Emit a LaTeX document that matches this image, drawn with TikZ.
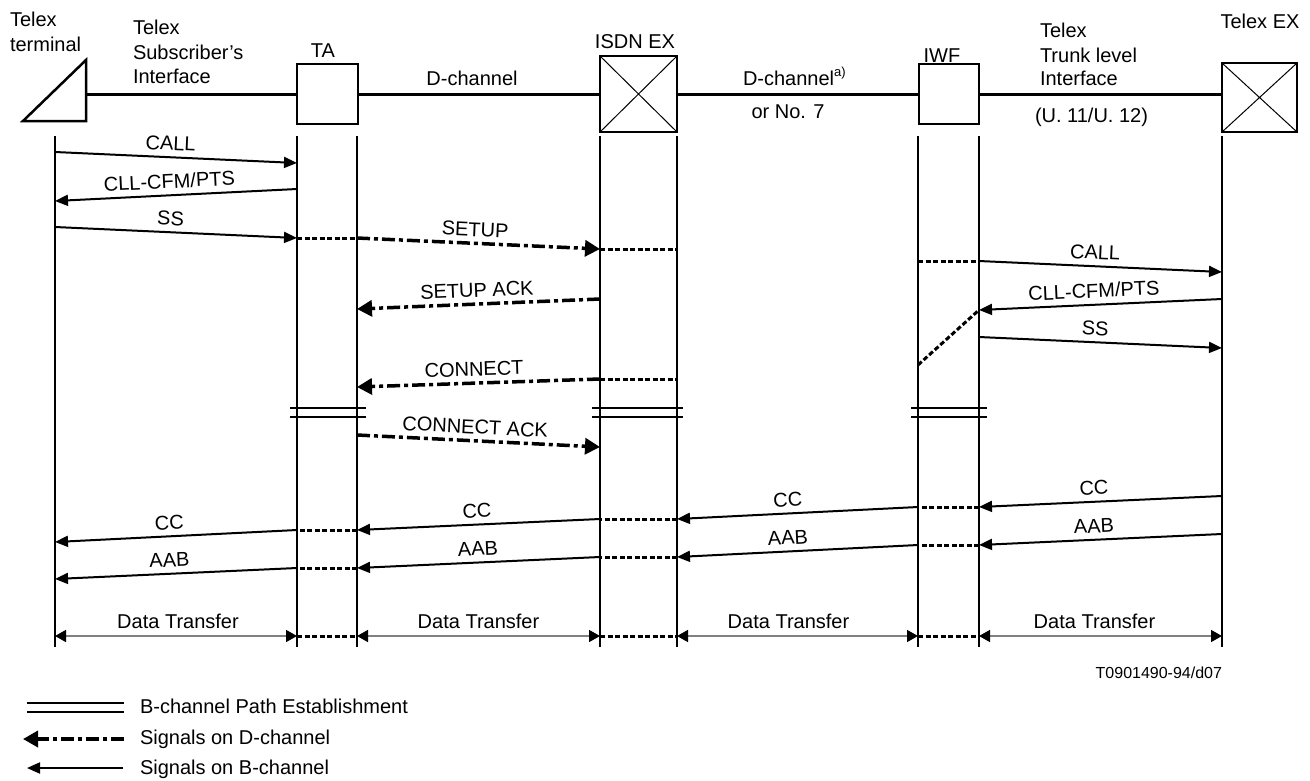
\documentclass[tikz,border=0pt]{standalone}
\usepackage{fontspec}
\setmainfont{Liberation Sans}
\usetikzlibrary{arrows.meta}
\begin{document}
\begin{tikzpicture}[x=1pt,y=-1pt,
  every node/.style={font=\fontsize{20}{24}\selectfont, inner sep=0pt, outer sep=0pt},
  box/.style={draw, line width=2.5pt, anchor=north west, inner sep=0pt},
  hline/.style={line width=3pt},
  life/.style={line width=2.5pt},
  bsig/.style={line width=2pt, -{Triangle[length=13pt,width=11pt]}},
  dsig/.style={line width=3.5pt, dash pattern=on 13pt off 4pt on 4pt off 4pt, -{Triangle[length=15pt,width=16pt]}},
  dotseg/.style={line width=3pt, dash pattern=on 5pt off 2.5pt},
  dtrans/.style={draw=black!50, line width=1.5pt, {Triangle[length=11pt,width=12pt,color=black]}-{Triangle[length=11pt,width=12pt,color=black]}},
  dbl/.style={line width=2.5pt},
  lbl/.style={midway, sloped, above=7pt, text depth=0pt, xshift=-6pt},
  dlbl/.style={midway, above=7.5pt, text depth=0pt},
  hdr/.style={anchor=base west},
  hdc/.style={anchor=base},
]
\useasboundingbox (0,0) rectangle (1310,780);

% ---------- header ----------
\coordinate (trA) at (23,121);
\coordinate (trB) at (86,121);
\coordinate (trC) at (86,60);
\coordinate (trR) at (86,94);
\draw[line width=2.5pt, line join=miter] (trA) -- (trB) -- (trC) -- cycle;

\node[box, minimum width=61pt, minimum height=60pt] (ta) at (297,64) {};
\node[box, minimum width=77pt, minimum height=76pt] (isdn) at (600,56) {};
\node[box, minimum width=60pt, minimum height=60pt] (iwf) at (919,64) {};
\node[box, minimum width=75pt, minimum height=69pt] (tex) at (1222,63) {};
\draw[line width=1pt] (isdn.north west) -- (isdn.south east) (isdn.north east) -- (isdn.south west);
\draw[line width=1pt] (tex.north west) -- (tex.south east) (tex.north east) -- (tex.south west);

\draw[hline] (trR) -- (ta.west);
\draw[hline] (ta.east) -- (isdn.west);
\draw[hline] (isdn.east) -- (iwf.west);
\draw[hline] (iwf.east) -- (iwf.east -| tex.west);

\node[hdr] (h1) at (10,26) {Telex};
\node[hdr] (h2) at (10,51) {terminal};
\node[hdr] (h3) at (133,34) {Telex};
\node[hdr] (h4) at (133,59) {Subscriber’s};
\node[hdr] (h5) at (133,83) {Interface};
\node[hdc] (h6) at (323,57) {TA};
\node[hdc] (h7) at (472,85) {D-channel};
\node[hdc] (h8) at (635,48) {ISDN EX};
\node[hdr] (h9) at (743,85) {D-channel\raisebox{9pt}{\fontsize{13}{13}\selectfont a)}};
\node[hdc] (h10) at (788,118) {or No. 7};
\node[hdc] (h11) at (942,62) {IWF};
\node[hdr] (h12) at (1040,37) {Telex};
\node[hdr] (h13) at (1040,62) {Trunk level};
\node[hdr] (h14) at (1040,85) {Interface};
\node[hdr] (h15) at (1035,122) {(U. 11/U. 12)};
\node[hdc] (h16) at (1260,28) {Telex EX};

% ---------- lifelines ----------
\foreach \x/\n in {55/la,297/lb,357/lc,600/ld,677/le,918/lf,979/lg,1222/lh}{
  \coordinate (\n t) at (\x,136);
  \coordinate (\n b) at (\x,647);
  \draw[life] (\n t) -- (\n b);
}

% ---------- B-channel path establishment ----------
\draw[dbl] (290,408) -- (366,408) (290,417) -- (366,417);
\draw[dbl] (592,408) -- (683,408) (592,417) -- (683,417);
\draw[dbl] (911,408) -- (987,408) (911,417) -- (987,417);

% ---------- coordinates of signals ----------
\coordinate (c1a) at (55,152);   \coordinate (c1b) at (297,163);
\coordinate (c2a) at (297,189);  \coordinate (c2b) at (55,201);
\coordinate (c3a) at (55,227);   \coordinate (c3b) at (297,238);
\coordinate (c4a) at (979,261);  \coordinate (c4b) at (1222,272);
\coordinate (c5a) at (1222,299); \coordinate (c5b) at (979,310);
\coordinate (c6a) at (979,337);  \coordinate (c6b) at (1222,348);

\coordinate (d1a) at (357,238);  \coordinate (d1b) at (600,249);
\coordinate (d2a) at (600,299);  \coordinate (d2b) at (357,309);
\coordinate (d3a) at (600,379);  \coordinate (d3b) at (357,387);
\coordinate (d4a) at (357,435);  \coordinate (d4b) at (600,447);

\coordinate (cc1a) at (1222,496); \coordinate (cc1b) at (979,507);
\coordinate (cc2a) at (918,507);  \coordinate (cc2b) at (677,519);
\coordinate (cc3a) at (600,519);  \coordinate (cc3b) at (357,530);
\coordinate (cc4a) at (297,530);  \coordinate (cc4b) at (55,542);

\coordinate (ab1a) at (1222,534); \coordinate (ab1b) at (979,545);
\coordinate (ab2a) at (918,545);  \coordinate (ab2b) at (677,557);
\coordinate (ab3a) at (600,557);  \coordinate (ab3b) at (357,568);
\coordinate (ab4a) at (297,568);  \coordinate (ab4b) at (55,579);

\coordinate (dt1) at (677,249);
\coordinate (dt2) at (918,261);
\coordinate (dt3) at (918,365);
\coordinate (dt4) at (677,379);

% ---------- B-channel signals ----------
\draw[bsig] (c1a) -- node[lbl] (m1) {CALL} (c1b);
\draw[bsig] (c2a) -- node[lbl] (m2) {CLL-CFM/PTS} (c2b);
\draw[bsig] (c3a) -- node[lbl] (m3) {SS} (c3b);
\draw[bsig] (c4a) -- node[lbl] (m4) {CALL} (c4b);
\draw[bsig] (c5a) -- node[lbl] (m5) {CLL-CFM/PTS} (c5b);
\draw[bsig] (c6a) -- node[lbl] (m6) {SS} (c6b);

\draw[bsig] (cc1a) -- node[lbl] (m7) {CC} (cc1b);
\draw[bsig] (cc2a) -- node[lbl, xshift=-3pt] (m8) {CC} (cc2b);
\draw[bsig] (cc3a) -- node[lbl, xshift=5pt] (m9) {CC} (cc3b);
\draw[bsig] (cc4a) -- node[lbl] (m10) {CC} (cc4b);
\draw[bsig] (ab1a) -- node[lbl] (m11) {AAB} (ab1b);
\draw[bsig] (ab2a) -- node[lbl, xshift=-3pt] (m12) {AAB} (ab2b);
\draw[bsig] (ab3a) -- node[lbl, xshift=6pt] (m13) {AAB} (ab3b);
\draw[bsig] (ab4a) -- node[lbl] (m14) {AAB} (ab4b);

% ---------- D-channel signals ----------
\draw[dsig] (d1a) -- node[lbl, xshift=2pt] (m15) {SETUP} (d1b);
\draw[dsig] (d2a) -- node[lbl, xshift=5pt] (m16) {SETUP ACK} (d2b);
\draw[dsig] (d3a) -- node[lbl, xshift=2pt] (m17) {CONNECT} (d3b);
\draw[dsig] (d4a) -- node[lbl, xshift=2pt] (m18) {CONNECT ACK} (d4b);

% ---------- through-connections ----------
\draw[dotseg] (c3b) -- (d1a);
\draw[dotseg] (d1b) -- (dt1);
\draw[dotseg] (dt2) -- (c4a);
\draw[dotseg] (dt3) -- (c5b);
\draw[dotseg] (d3a) -- (dt4);
\draw[dotseg] (cc1b) -- (cc2a);
\draw[dotseg] (cc2b) -- (cc3a);
\draw[dotseg] (cc3b) -- (cc4a);
\draw[dotseg] (ab1b) -- (ab2a);
\draw[dotseg] (ab2b) -- (ab3a);
\draw[dotseg] (ab3b) -- (ab4a);

% ---------- data transfer ----------
\foreach \x/\n in {55/t0,297/t1,357/t2,600/t3,677/t4,918/t5,979/t6,1222/t7}{
  \coordinate (\n) at (\x,636);
}
\draw[dtrans] (t0) -- node[dlbl, xshift=2pt] (dx1) {Data Transfer} (t1);
\draw[dtrans] (t2) -- node[dlbl] (dx2) {Data Transfer} (t3);
\draw[dtrans] (t4) -- node[dlbl, xshift=-9pt] (dx3) {Data Transfer} (t5);
\draw[dtrans] (t6) -- node[dlbl, xshift=-6pt] (dx4) {Data Transfer} (t7);
\draw[dotseg] (t1) -- (t2);
\draw[dotseg] (t3) -- (t4);
\draw[dotseg] (t5) -- (t6);

\node[anchor=base east, font=\fontsize{16}{19}\selectfont] (ref) at (1222,678) {T0901490-94/d07};

% ---------- legend ----------
\coordinate (g1a) at (27,703); \coordinate (g1b) at (124,703);
\coordinate (g2a) at (27,712); \coordinate (g2b) at (124,712);
\draw[dbl] (g1a) -- (g1b) (g2a) -- (g2b);
\coordinate (g3a) at (124,739); \coordinate (g3b) at (23,739);
\draw[dsig] (g3a) -- (g3b);
\coordinate (g4a) at (123,768); \coordinate (g4b) at (27,768);
\draw[bsig] (g4a) -- (g4b);
\node[hdr] (lg1) at (140,713) {B-channel Path Establishment};
\node[hdr] (lg2) at (140,744) {Signals on D-channel};
\node[hdr] (lg3) at (140,774) {Signals on B-channel};
\end{tikzpicture}
\end{document}
